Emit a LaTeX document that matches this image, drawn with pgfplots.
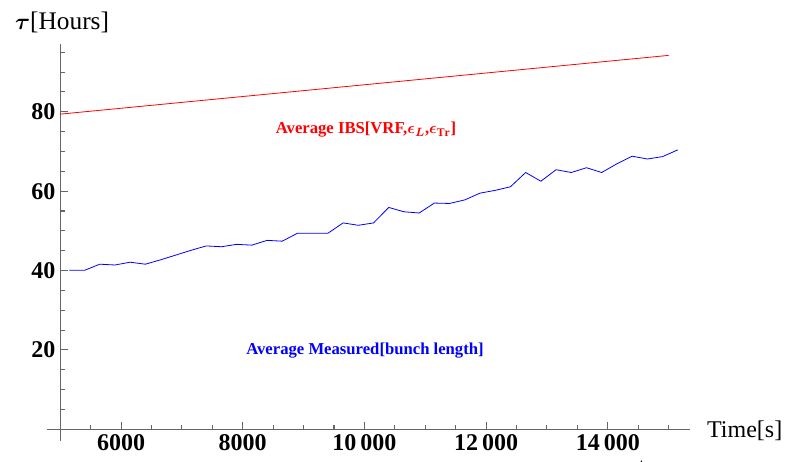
\documentclass[border=0pt]{standalone}
\usepackage{fontspec}
\setmainfont{Liberation Serif}
\usepackage{pgfplots}
\pgfplotsset{compat=1.18}
\definecolor{axgray}{gray}{0.4}
\begin{document}
\begin{tikzpicture}
\useasboundingbox (-45.15pt,-24pt) rectangle (548.85pt,322pt);
\begin{axis}[
  at={(0pt,0pt)}, anchor=south west,
  scale only axis, width=472.3pt, height=288.8pt,
  xmin=5000, xmax=15350, ymin=0, ymax=97,
  axis lines=left,
  axis line style={-, axgray, line width=0.8pt},
  xtick={6000,8000,...,14000},
  xticklabels={6000,8000,10\,000,12\,000,14\,000},
  minor xtick={5500,6000,...,15000},
  ytick={20,40,60,80},
  minor ytick={5,10,...,95},
  tick align=inside,
  major tick length=5.5pt, minor tick length=3.5pt,
  tick style={axgray, line width=0.8pt},
  ticklabel style={font=\bfseries\fontsize{18}{18}\selectfont},
  /pgf/number format/assume math mode=true,
  xticklabel style={yshift=0pt},
  clip=false,
]
  % IBS estimate
  \addplot[red, line width=0.6pt] coordinates {
    (5000,79.4) (7500,83.1) (10000,86.8) (12500,90.5) (15000,94.2)
  };
  % measured bunch length
  \addplot[blue, line width=0.6pt] coordinates {
    (5150,40.1) (5400,40.05) (5650,41.6) (5900,41.4) (6150,42.1)
    (6400,41.6) (6650,42.7) (6900,43.9) (7150,45.1) (7400,46.2)
    (7650,46.0) (7900,46.6) (8150,46.4) (8400,47.6) (8650,47.4)
    (8900,49.4) (9150,49.4) (9400,49.4) (9650,52.0) (9900,51.4)
    (10150,52.0) (10400,55.9) (10650,54.8) (10900,54.5) (11150,57.0)
    (11400,56.9) (11650,57.8) (11900,59.5) (12150,60.2) (12400,61.1)
    (12650,64.7) (12900,62.5) (13150,65.4) (13400,64.7) (13650,65.9)
    (13900,64.7) (14150,66.9) (14400,68.8) (14650,68.1) (14900,68.7)
    (15150,70.4)
  };
  \node[red, font=\bfseries\fontsize{12.5}{12.5}\selectfont\boldmath]
    at (axis cs:10026,75.4) {Average IBS[VRF,$\epsilon_{L}$,$\epsilon_{\mathrm{Tr}}$]};
  \node[blue, font=\bfseries\fontsize{12.5}{12.5}\selectfont]
    at (axis cs:10010,19.8) {Average Measured[bunch length]};
\end{axis}
\draw[axgray, line width=0.8pt] (0,0) -- (0,-9pt);
\draw[axgray, line width=0.8pt] (0,0) -- (-9.75pt,0);
\node[anchor=west, font=\fontsize{19}{19}\selectfont, inner sep=0pt] at (-34pt,305.5pt) {{\boldmath$\tau$}[Hours]};
\node[anchor=west, font=\fontsize{18}{18}\selectfont, inner sep=0pt] at (485pt,-1pt) {Time[s]};
\end{tikzpicture}
\end{document}
